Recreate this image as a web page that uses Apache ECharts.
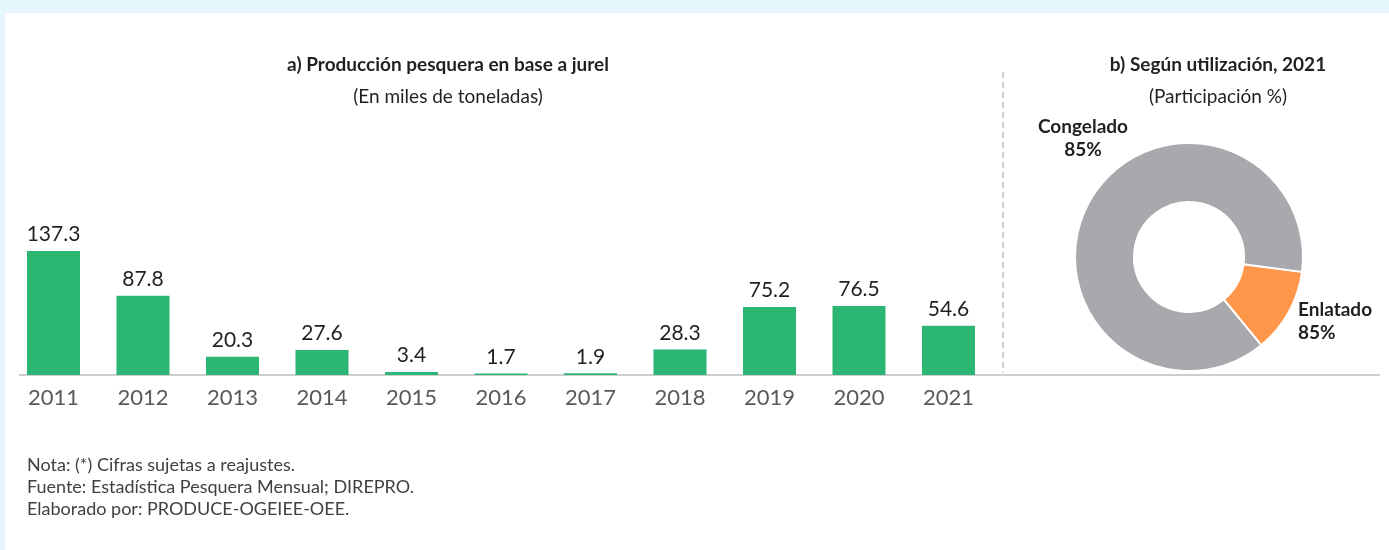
<!DOCTYPE html>
<html>
<head>
<meta charset="utf-8">
<script src="https://cdn.jsdelivr.net/npm/echarts@6/dist/echarts.min.js"></script>
<style>
  html, body { margin: 0; padding: 0; }
  .page { position: relative; width: 1389px; height: 550px; background: #e4f5fc; }
  .chart-container { position: absolute; left: 5px; top: 13px; width: 1384px; height: 537px; background: #fff; }
</style>
</head>
<body>
<div class="page"><div id="chart" class="chart-container"></div></div>
<script>
// a) Producción pesquera en base a jurel (miles de toneladas)
const years = ['2011', '2012', '2013', '2014', '2015', '2016', '2017', '2018', '2019', '2020', '2021'];
const production = [137.3, 87.8, 20.3, 27.6, 3.4, 1.7, 1.9, 28.3, 75.2, 76.5, 54.6];

// b) Según utilización, 2021
const useNames = ['Enlatado', 'Congelado'];
const useShares = [12, 88];
const useLabels = ['85%', '85%'];   // as printed in the source

const notes = [
  'Nota: (*) Cifras sujetas a reajustes.',
  'Fuente: Estadística Pesquera Mensual; DIREPRO.',
  'Elaborado por: PRODUCE-OGEIEE-OEE.'
];

const FONT = 'Lato, "Open Sans", sans-serif';
const TEXT = '#231f20';

const chart = echarts.init(document.getElementById('chart'));

// label spots for the donut slices
const pieLabelSpots = [
  { x: 1293, y: 285.5, align: 'left' },
  { x: 1078, y: 102.5, align: 'center' }
];

const option = {
  animation: false,
  textStyle: { fontFamily: FONT },
  title: [
    {
      text: 'a) Producción pesquera en base a jurel',
      subtext: '(En miles de toneladas)',
      left: 438, top: 37, textAlign: 'center', itemGap: 13,
      textStyle: { fontFamily: FONT, fontSize: 19, fontWeight: 'bold', color: TEXT },
      subtextStyle: { fontFamily: FONT, fontSize: 19, color: TEXT }
    },
    {
      text: 'b) Según utilización, 2021',
      subtext: '(Participación %)',
      left: 1208, top: 37, textAlign: 'center', itemGap: 13,
      textStyle: { fontFamily: FONT, fontSize: 19, fontWeight: 'bold', color: TEXT },
      subtextStyle: { fontFamily: FONT, fontSize: 19, color: TEXT }
    }
  ],
  grid: { left: 3.75, width: 984.5, top: 217.5, bottom: 175, containLabel: false },
  xAxis: {
    type: 'category',
    data: years,
    axisLine: { show: false },
    axisTick: { show: false },
    axisLabel: { fontSize: 22, color: '#58595b', margin: 12, fontFamily: FONT }
  },
  yAxis: {
    type: 'value', min: 0, max: 160,
    show: false, splitLine: { show: false }
  },
  series: [
    {
      type: 'bar',
      data: production,
      barWidth: 53,
      itemStyle: { color: '#2bb673' },
      label: {
        show: true, position: 'top', distance: 6,
        fontSize: 21, color: TEXT, fontFamily: FONT,
        formatter: p => p.value.toFixed(1)
      }
    },
    {
      type: 'pie',
      center: [1184, 244],
      radius: [55, 114],
      startAngle: -7.5,
      clockwise: true,
      itemStyle: { borderColor: '#fff', borderWidth: 2 },
      label: {
        show: true, fontFamily: FONT, fontSize: 19, fontWeight: 'bold',
        color: TEXT, lineHeight: 23, overflow: 'none', alignTo: 'none',
        formatter: p => p.name + '\n' + useLabels[p.dataIndex]
      },
      labelLine: { show: false },
      labelLayout: p => Object.assign({ verticalAlign: 'top' }, pieLabelSpots[p.dataIndex]),
      emphasis: { disabled: true },
      data: useNames.map((n, i) => ({
        name: n,
        value: useShares[i],
        itemStyle: { color: i === 0 ? '#ff974a' : '#a7a9ac' }
      }))
    }
  ],
  graphic: [
    {
      type: 'line', silent: true,
      shape: { x1: 14, y1: 362, x2: 1375, y2: 362 },
      style: { stroke: '#bcbec0', lineWidth: 1.5 }
    },
    {
      type: 'line', silent: true,
      shape: { x1: 998, y1: 59, x2: 998, y2: 360 },
      style: { stroke: '#9d9fa2', lineWidth: 1, lineDash: [6, 4] }
    },
    {
      type: 'text', left: 22, top: 441, silent: true,
      style: {
        text: notes.join('\n'), fontFamily: FONT, fontSize: 18,
        lineHeight: 22, fill: '#414042'
      }
    }
  ]
};

chart.setOption(option);
</script>
</body>
</html>
